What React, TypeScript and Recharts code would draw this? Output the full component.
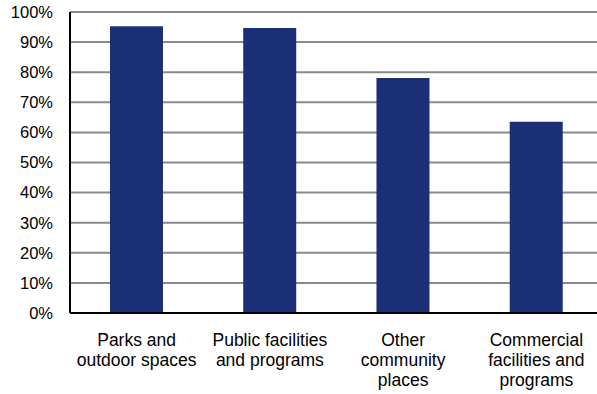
import { BarChart, Bar, XAxis, YAxis, CartesianGrid } from "recharts";

const categories = [
  "Parks and\noutdoor spaces",
  "Public facilities\nand programs",
  "Other\ncommunity\nplaces",
  "Commercial\nfacilities and\nprograms",
];
const shares = [0.953, 0.947, 0.781, 0.635];
const yTicks = [0, 0.1, 0.2, 0.3, 0.4, 0.5, 0.6, 0.7, 0.8, 0.9, 1];

const data = categories.map((name, i) => ({ name, share: shares[i] }));

const FONT = "Arial, 'Liberation Sans', sans-serif";

function CategoryTick(props: any) {
  const { x, y, payload } = props;
  const lines = String(payload.value).split("\n");
  return (
    <text
      x={x}
      y={y}
      textAnchor="middle"
      fontFamily={FONT}
      fontSize={17.5}
      fill="#000"
    >
      {lines.map((line, i) => (
        <tspan key={i} x={x} dy={i === 0 ? 33 : 20}>
          {line}
        </tspan>
      ))}
    </text>
  );
}

export default function App() {
  return (
    <div
      style={{
        position: "absolute",
        left: 0,
        top: 0,
        width: 597,
        height: 394,
        overflow: "hidden",
        background: "#fff",
      }}
    >
      <BarChart
        width={604}
        height={394}
        data={data}
        margin={{ top: 12, right: 1, left: 0, bottom: 0 }}
        barCategoryGap="30%"
      >
        <CartesianGrid
          vertical={false}
          stroke="#8a8a8a"
          strokeWidth={2}
        />
        <XAxis
          dataKey="name"
          height={81}
          tickSize={0}
          tickMargin={0}
          interval={0}
          axisLine={{ stroke: "#000", strokeWidth: 2 }}
          tickLine={false}
          tick={<CategoryTick />}
        />
        <YAxis
          width={70}
          domain={[0, 1]}
          ticks={yTicks}
          interval={0}
          tickSize={0}
          tickMargin={17}
          tickLine={false}
          axisLine={{ stroke: "#000", strokeWidth: 2 }}
          tickFormatter={(v: number) => `${Math.round(v * 100)}%`}
          tick={{ fill: "#000", fontSize: 16.5, fontFamily: FONT }}
        />
        <Bar dataKey="share" fill="#1b2f78" isAnimationActive={false} />
      </BarChart>
    </div>
  );
}
